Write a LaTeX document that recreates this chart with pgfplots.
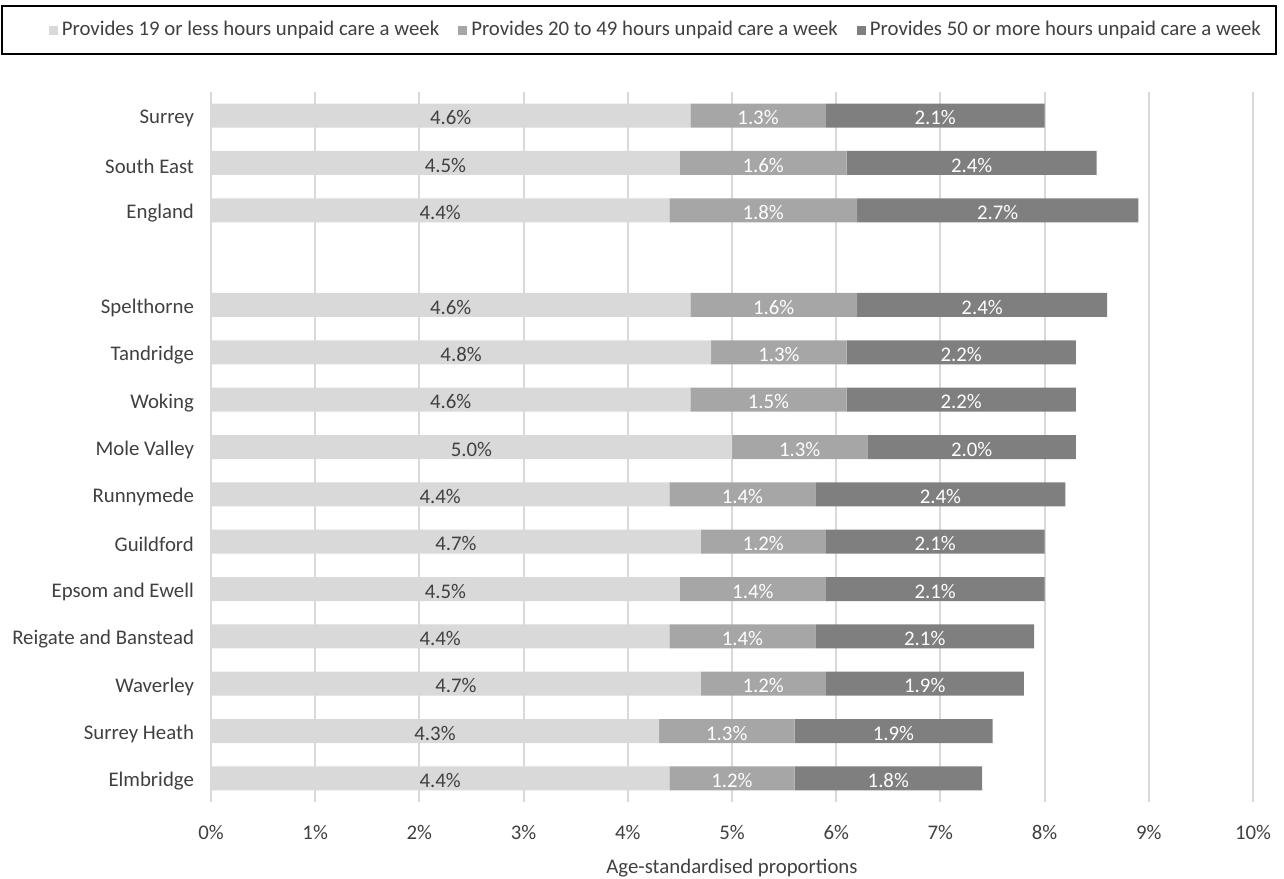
\documentclass[border=0pt]{standalone}
\usepackage{pgfplots}
\pgfplotsset{compat=1.18}
\usepackage{pgfplotstable}
\usepackage{fontspec}
\setmainfont{Carlito}
\definecolor{c1}{HTML}{D9D9D9}
\definecolor{c2}{HTML}{A6A6A6}
\definecolor{c3}{HTML}{7F7F7F}
\definecolor{gridc}{HTML}{D9D9D9}
\definecolor{txt}{HTML}{404040}

\pgfplotstableread{
y a b c
0 4.4 1.2 1.8
1 4.3 1.3 1.9
2 4.7 1.2 1.9
3 4.4 1.4 2.1
4 4.5 1.4 2.1
5 4.7 1.2 2.1
6 4.4 1.4 2.4
7 5.0 1.3 2.0
8 4.6 1.5 2.2
9 4.8 1.3 2.2
10 4.6 1.6 2.4
12 4.4 1.8 2.7
13 4.5 1.6 2.4
14 4.6 1.3 2.1
}\data

\pgfplotsset{
  seglabel/.style={
    nodes near coords={\pgfmathprintnumber[fixed,fixed zerofill,precision=1,assume math mode=true]{\pgfplotspointmeta}\%},
    point meta=explicit,
    every node near coord/.style={anchor=center, yshift=-1pt, text=#1, font=\fontsize{10.4pt}{12pt}\selectfont},
  },
}

\begin{document}
\begin{tikzpicture}[font=\fontsize{10.4pt}{12pt}\selectfont]
\path[use as bounding box] (-105.5pt,-38pt) rectangle (536.5pt,401pt);
\begin{axis}[
  scale only axis, width=521pt, height=355pt,
  xbar stacked, bar width=12pt,
  xmin=0, xmax=10, ymin=-0.5, ymax=14.5,
  xtick={0,1,...,10},
  xticklabels={0\%,1\%,2\%,3\%,4\%,5\%,6\%,7\%,8\%,9\%,10\%},
  ytick={0,1,2,3,4,5,6,7,8,9,10,12,13,14},
  yticklabels={Elmbridge,Surrey Heath,Waverley,Reigate and Banstead,Epsom and Ewell,Guildford,Runnymede,Mole Valley,Woking,Tandridge,Spelthorne,England,South East,Surrey},
  xmajorgrids, major grid style={gridc, line width=1pt},
  axis line style={draw=none}, tick style={draw=none},
  tick label style={color=txt},
  yticklabel style={xshift=-5pt, yshift=-1.5pt},
  xticklabel style={yshift=-8pt},
  xlabel={Age-standardised proportions},
  xlabel style={color=txt, yshift=-3pt},
  legend columns=3,
  legend cell align=left,
  legend style={at={(-0.2015,1.1225)}, anchor=north west, draw=black, line width=0.8pt,
    inner xsep=5.5pt, inner ysep=5.75pt, font=\fontsize{10.4pt}{12pt}\selectfont, text=txt,
    nodes={inner xsep=2pt},
    /tikz/every even column/.append style={column sep=7.5pt},
    /tikz/every odd column/.append style={column sep=0pt}},
  legend image code/.code={\fill[#1] (0pt,-2.25pt) rectangle (4.5pt,2.25pt);},
]
\addplot[fill=c1, draw=none, seglabel={txt},
  legend image code/.code={\path (-18pt,0pt); \fill[##1] (0pt,-2.25pt) rectangle (4.5pt,2.25pt);}] table[x=a, y=y, meta=a] {\data};
\addlegendentry{Provides 19 or less hours unpaid care a week}
\addplot[fill=c2, draw=none, seglabel={white}] table[x=b, y=y, meta=b] {\data};
\addlegendentry{Provides 20 to 49 hours unpaid care a week}
\addplot[fill=c3, draw=none, seglabel={white}] table[x=c, y=y, meta=c] {\data};
\addlegendentry{Provides 50 or more hours unpaid care a week}
\end{axis}
\end{tikzpicture}
\end{document}
